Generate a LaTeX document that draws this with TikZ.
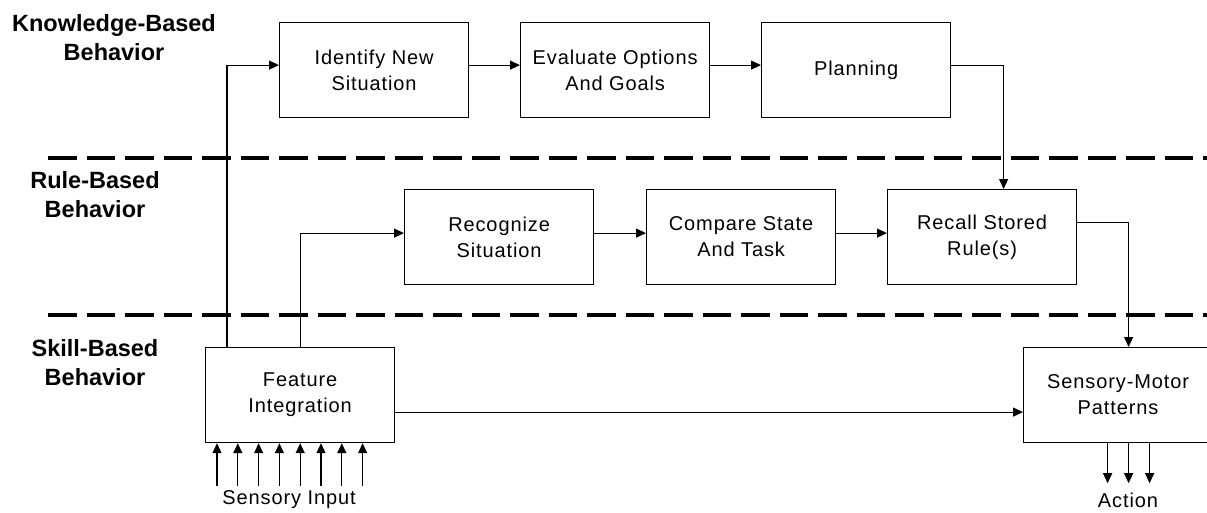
\documentclass[tikz,border=0pt]{standalone}
\usepackage{fontspec}
\setmainfont{Liberation Sans}
\newfontfamily\spacedsans[LetterSpace=4.5]{Liberation Sans}
\usetikzlibrary{arrows.meta}

\tikzset{
  stage/.style={draw, line width=1.2pt, minimum width=189pt, minimum height=95pt,
    inner sep=0pt, anchor=north west, align=center,
    font=\spacedsans\fontsize{20}{26}\selectfont},
  levelname/.style={align=center, inner sep=0pt,
    font=\bfseries\fontsize{23.5}{29}\selectfont},
  caption/.style={inner sep=0pt, font=\spacedsans\fontsize{20}{24}\selectfont},
  arr/.style={line width=1.2pt, -{Triangle[length=10pt,width=9pt]}},
  divider/.style={line width=4pt, dash pattern=on 28.5pt off 10pt}
}

\begin{document}
\begin{tikzpicture}[x=1pt, y=-1pt]
\useasboundingbox (0,0) rectangle (1207,512);

% level dividers
\draw[divider] (48,158) -- (1207,158);
\draw[divider] (48,315) -- (1207,315);

% level names
\node[levelname] (kb) at (114,38) {Knowledge-Based\\Behavior};
\node[levelname] (rb) at (95,195) {Rule-Based\\Behavior};
\node[levelname] (sb) at (95,363) {Skill-Based\\Behavior};

% knowledge-based level
\node[stage] (ident) at (279,22) {Identify New\\Situation};
\node[stage] (eval)  at (520,22) {Evaluate Options\\And Goals};
\node[stage] (plan)  at (761,22) {Planning};

% rule-based level
\node[stage] (recog)   at (404,189) {Recognize\\Situation};
\node[stage] (compare) at (646,189) {Compare State\\And Task};
\node[stage] (recall)  at (887,189) {Recall Stored\\Rule(s)};

% skill-based level
\node[stage] (feat) at (205,347) {Feature\\Integration};
\node[stage] (sm)   at (1023,347) {Sensory-Motor\\Patterns};

% connectors
\draw[arr] ([xshift=22pt]feat.north west) |- ([yshift=5pt]ident.west);
\draw[arr] ([yshift=5pt]ident.east) -- ([yshift=5pt]eval.west);
\draw[arr] ([yshift=5pt]eval.east) -- ([yshift=5pt]plan.west);
\draw[arr] ([yshift=5pt]plan.east) -| ([xshift=21.5pt]recall.north);

\draw[arr] (feat.north) |- ([yshift=4pt]recog.west);
\draw[arr] ([yshift=4pt]recog.east) -- ([yshift=4pt]compare.west);
\draw[arr] ([yshift=4pt]compare.east) -- ([yshift=4pt]recall.west);
\draw[arr] ([yshift=14.5pt]recall.east) -| ([xshift=10.5pt]sm.north);

\draw[arr] ([yshift=-17pt]feat.east) -- ([yshift=-17pt]sm.west);

% sensory input
\foreach \i in {0,...,7} {
  \coordinate (in\i) at ([xshift=12pt+20.8pt*\i, yshift=-43pt]feat.south west);
  \draw[arr] (in\i) -- (in\i |- feat.south);
}
\node[caption] (sin) at (289,500) {Sensory Input};

% action outputs
\foreach \i in {0,1,2} {
  \coordinate (out\i) at ([xshift=-10.5pt+21pt*\i, yshift=-40pt]sm.south);
  \draw[arr] (sm.south -| out\i) -- (out\i);
}
\node[caption] (act) at (1128,500) {Action};
\end{tikzpicture}
\end{document}
